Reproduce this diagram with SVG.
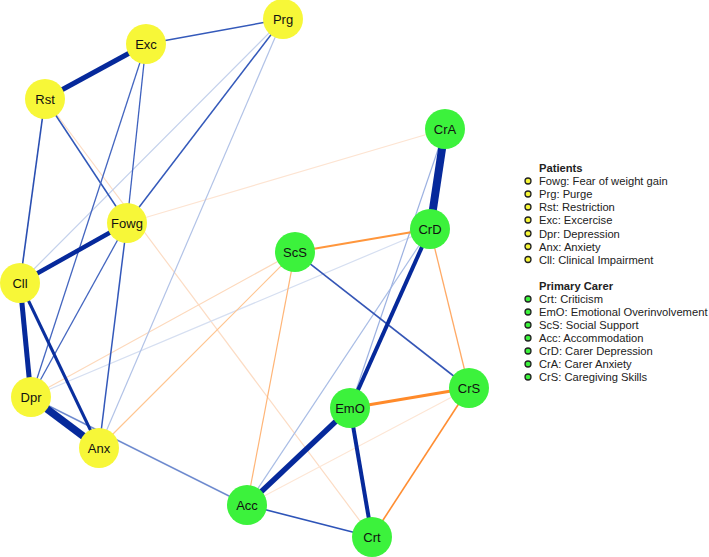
<svg xmlns="http://www.w3.org/2000/svg" width="709" height="557" viewBox="0 0 709 557">
<style>
.e{fill:none}
.pat circle{fill:#F7F738}
.car circle{fill:#3CF23C}
.lbl{font-family:"Liberation Sans",Arial,sans-serif;font-size:13px;fill:#111;text-anchor:middle}
.lg{font-family:"Liberation Sans",Arial,sans-serif;font-size:11.2px;fill:#222}
.lgh{font-family:"Liberation Sans",Arial,sans-serif;font-size:11.2px;font-weight:bold;fill:#222}
.by{fill:#F7F738;stroke:#222;stroke-width:1.3}
.bg{fill:#3CF23C;stroke:#222;stroke-width:1.3}
</style>
<rect width="709" height="557" fill="#fff"/>
<g id="edges" class="e">
<line x1="127" y1="223" x2="445" y2="129" stroke="#FDE4D2" stroke-width="1.2"/>
<line x1="45" y1="99" x2="372" y2="537" stroke="#FCDCC4" stroke-width="1.2"/>
<line x1="247" y1="505" x2="469" y2="388" stroke="#FDE6D5" stroke-width="1.2"/>
<line x1="31" y1="397" x2="430" y2="229" stroke="#D6DFF1" stroke-width="1.2"/>
<line x1="31" y1="397" x2="295" y2="252" stroke="#FDD9BC" stroke-width="1.2"/>
<line x1="283" y1="19" x2="20" y2="283" stroke="#C4D1EC" stroke-width="1.2"/>
<line x1="283" y1="19" x2="99" y2="448" stroke="#B2C3E7" stroke-width="1.2"/>
<line x1="99" y1="448" x2="295" y2="252" stroke="#FFC590" stroke-width="1.2"/>
<line x1="247" y1="505" x2="295" y2="252" stroke="#FFB577" stroke-width="1.2"/>
<line x1="247" y1="505" x2="430" y2="229" stroke="#A9BDE5" stroke-width="1.2"/>
<line x1="445" y1="129" x2="350" y2="408" stroke="#9CB1E1" stroke-width="1.2"/>
<line x1="31" y1="397" x2="247" y2="505" stroke="#6F8BCF" stroke-width="1.4"/>
<line x1="146" y1="44" x2="283" y2="19" stroke="#3459BA" stroke-width="1.5"/>
<line x1="45" y1="99" x2="127" y2="223" stroke="#3057B8" stroke-width="1.5"/>
<line x1="45" y1="99" x2="20" y2="283" stroke="#2A4FB2" stroke-width="1.6"/>
<line x1="146" y1="44" x2="127" y2="223" stroke="#3D60BE" stroke-width="1.3"/>
<line x1="146" y1="44" x2="31" y2="397" stroke="#4466C0" stroke-width="1.3"/>
<line x1="283" y1="19" x2="127" y2="223" stroke="#3459BA" stroke-width="1.5"/>
<line x1="127" y1="223" x2="31" y2="397" stroke="#4466C0" stroke-width="1.3"/>
<line x1="127" y1="223" x2="99" y2="448" stroke="#3358BA" stroke-width="1.5"/>
<line x1="247" y1="505" x2="372" y2="537" stroke="#2E54B8" stroke-width="1.6"/>
<line x1="295" y1="252" x2="469" y2="388" stroke="#3556B6" stroke-width="1.6"/>
<line x1="430" y1="229" x2="469" y2="388" stroke="#FFAA66" stroke-width="1.3"/>
<line x1="469" y1="388" x2="372" y2="537" stroke="#FF8E33" stroke-width="1.6"/>
<line x1="295" y1="252" x2="430" y2="229" stroke="#FF963C" stroke-width="2"/>
<line x1="350" y1="408" x2="469" y2="388" stroke="#FF8A2A" stroke-width="3"/>
<line x1="20" y1="283" x2="99" y2="448" stroke="#0A2F9E" stroke-width="3"/>
<line x1="430" y1="229" x2="350" y2="408" stroke="#06299B" stroke-width="4"/>
<line x1="350" y1="408" x2="372" y2="537" stroke="#06299B" stroke-width="4"/>
<line x1="127" y1="223" x2="20" y2="283" stroke="#06299B" stroke-width="4.5"/>
<line x1="146" y1="44" x2="45" y2="99" stroke="#06299B" stroke-width="5"/>
<line x1="20" y1="283" x2="31" y2="397" stroke="#06299B" stroke-width="5"/>
<line x1="247" y1="505" x2="350" y2="408" stroke="#06299B" stroke-width="5.5"/>
<line x1="31" y1="397" x2="99" y2="448" stroke="#06299B" stroke-width="7.5"/>
<line x1="445" y1="129" x2="430" y2="229" stroke="#06299B" stroke-width="8"/>
</g>
<g id="node-Prg" class="pat"><circle cx="283" cy="19" r="20"/><text class="lbl" x="283" y="23.5">Prg</text></g>
<g id="node-Exc" class="pat"><circle cx="146" cy="44" r="20"/><text class="lbl" x="146" y="48.5">Exc</text></g>
<g id="node-Rst" class="pat"><circle cx="45" cy="99" r="20"/><text class="lbl" x="45" y="103.5">Rst</text></g>
<g id="node-Fowg" class="pat"><circle cx="127" cy="223" r="20"/><text class="lbl" x="127" y="227.5">Fowg</text></g>
<g id="node-Cll" class="pat"><circle cx="20" cy="283" r="20"/><text class="lbl" x="20" y="287.5">Cll</text></g>
<g id="node-Dpr" class="pat"><circle cx="31" cy="397" r="20"/><text class="lbl" x="31" y="401.5">Dpr</text></g>
<g id="node-Anx" class="pat"><circle cx="99" cy="448" r="20"/><text class="lbl" x="99" y="452.5">Anx</text></g>
<g id="node-ScS" class="car"><circle cx="295" cy="252" r="20"/><text class="lbl" x="295" y="256.5">ScS</text></g>
<g id="node-CrA" class="car"><circle cx="445" cy="129" r="20"/><text class="lbl" x="445" y="133.5">CrA</text></g>
<g id="node-CrD" class="car"><circle cx="430" cy="229" r="20"/><text class="lbl" x="430" y="233.5">CrD</text></g>
<g id="node-CrS" class="car"><circle cx="469" cy="388" r="20"/><text class="lbl" x="469" y="392.5">CrS</text></g>
<g id="node-EmO" class="car"><circle cx="350" cy="408" r="20"/><text class="lbl" x="350" y="412.5">EmO</text></g>
<g id="node-Acc" class="car"><circle cx="247" cy="505" r="20"/><text class="lbl" x="247" y="509.5">Acc</text></g>
<g id="node-Crt" class="car"><circle cx="372" cy="537" r="20"/><text class="lbl" x="372" y="541.5">Crt</text></g>
<g id="legend">
<text class="lgh" x="539" y="171.5">Patients</text>
<circle class="by" cx="528" cy="181" r="3"/><text class="lg" x="539" y="185">Fowg: Fear of weight gain</text>
<circle class="by" cx="528" cy="194" r="3"/><text class="lg" x="539" y="198">Prg: Purge</text>
<circle class="by" cx="528" cy="207" r="3"/><text class="lg" x="539" y="211">Rst: Restriction</text>
<circle class="by" cx="528" cy="220" r="3"/><text class="lg" x="539" y="224">Exc: Excercise</text>
<circle class="by" cx="528" cy="233.5" r="3"/><text class="lg" x="539" y="237.5">Dpr: Depression</text>
<circle class="by" cx="528" cy="246.5" r="3"/><text class="lg" x="539" y="250.5">Anx: Anxiety</text>
<circle class="by" cx="528" cy="259.5" r="3"/><text class="lg" x="539" y="263.5">Cll: Clinical Impairment</text>
<text class="lgh" x="539" y="289.5">Primary Carer</text>
<circle class="bg" cx="528" cy="299" r="3"/><text class="lg" x="539" y="303">Crt: Criticism</text>
<circle class="bg" cx="528" cy="312" r="3"/><text class="lg" x="539" y="316">EmO: Emotional Overinvolvement</text>
<circle class="bg" cx="528" cy="325" r="3"/><text class="lg" x="539" y="329">ScS: Social Support</text>
<circle class="bg" cx="528" cy="338" r="3"/><text class="lg" x="539" y="342">Acc: Accommodation</text>
<circle class="bg" cx="528" cy="351" r="3"/><text class="lg" x="539" y="355">CrD: Carer Depression</text>
<circle class="bg" cx="528" cy="364" r="3"/><text class="lg" x="539" y="368">CrA: Carer Anxiety</text>
<circle class="bg" cx="528" cy="377" r="3"/><text class="lg" x="539" y="381">CrS: Caregiving Skills</text>
</g>
</svg>
